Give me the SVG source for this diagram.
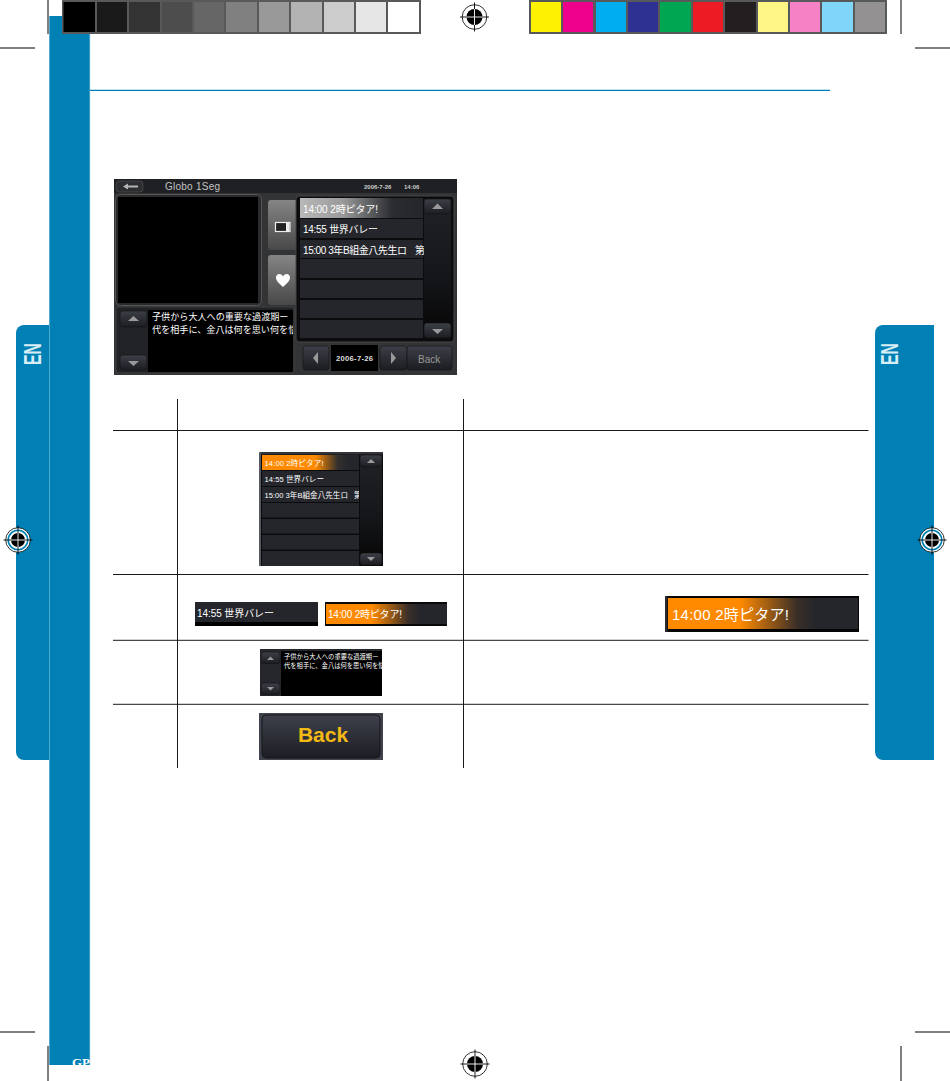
<svg xmlns="http://www.w3.org/2000/svg" width="950" height="1081" viewBox="0 0 950 1081">
<style>
.crop{stroke:#000;stroke-width:1;fill:none}
.rule{stroke:#1a1a1a;stroke-width:1;fill:none}
.jp{font-family:"Liberation Sans","Noto Sans CJK JP",sans-serif;fill:#fff}
.row{fill:#24262b}
.btn{fill:url(#btnG);stroke:#111;stroke-width:.6}
.arr{fill:#9a9a9a}
</style>
<defs>
<linearGradient id="btnG" x1="0" y1="0" x2="0" y2="1"><stop offset="0" stop-color="#3c3f47"/><stop offset="1" stop-color="#1c1d22"/></linearGradient>
<linearGradient id="sideB" x1="0" y1="0" x2="0" y2="1"><stop offset="0" stop-color="#858585"/><stop offset="1" stop-color="#484848"/></linearGradient>
<linearGradient id="track" x1="0" y1="0" x2="0" y2="1"><stop offset="0" stop-color="#202226"/><stop offset=".6" stop-color="#141518"/><stop offset="1" stop-color="#050505"/></linearGradient>
<linearGradient id="selG"><stop offset="0" stop-color="#b8b8b8"/><stop offset=".35" stop-color="#9a9a9a"/><stop offset=".75" stop-color="#2a2c30"/><stop offset="1" stop-color="#24262b"/></linearGradient>
<linearGradient id="orG"><stop offset="0" stop-color="#ff8a00"/><stop offset=".38" stop-color="#ff8a00"/><stop offset=".68" stop-color="#3a2e28"/><stop offset=".78" stop-color="#24262b"/></linearGradient>
<linearGradient id="orL"><stop offset="0" stop-color="#ff8a00"/><stop offset=".55" stop-color="#ff8a00"/><stop offset=".78" stop-color="#33302e"/><stop offset=".9" stop-color="#24262b"/></linearGradient>
<linearGradient id="backG" x1="0" y1="0" x2="0" y2="1"><stop offset="0" stop-color="#3d404b"/><stop offset="1" stop-color="#1d1e24"/></linearGradient>
<clipPath id="c1"><rect x="148" y="310" width="145" height="62"/></clipPath>
<clipPath id="c2"><rect x="300" y="240" width="124" height="18"/></clipPath>
<clipPath id="c3"><rect x="262" y="487" width="97" height="15"/></clipPath>
<clipPath id="c4"><rect x="281" y="651" width="101" height="45"/></clipPath>
<clipPath id="c5"><rect x="49" y="16" width="41" height="1049"/></clipPath>
<symbol id="reg" viewBox="-15 -15 30 30" width="30" height="30" overflow="visible">
<circle r="12.300" fill="#fff" stroke="#000" stroke-width=".8"/>
<circle r="8" fill="#000"/>
<path d="M-8 0H8M0-8V8" stroke="#fff" stroke-width=".9"/>
<path d="M-14.500 0H-8M8 0H14.500M0-14.500V-8M0 8V14.500" stroke="#000" stroke-width=".9"/>
</symbol>
<symbol id="regs" viewBox="-15 -15 30 30" width="30" height="30" overflow="visible">
<circle r="12.300" fill="#fff" stroke="#000" stroke-width=".8"/>
<circle r="9.800" fill="none" stroke="#0080b4" stroke-width="1.600"/>
<circle r="7" fill="#000"/>
<path d="M-7 0H7M0-7V7" stroke="#fff" stroke-width=".9"/>
<path d="M-14.500 0H-7M7 0H14.500M0-14.500V-7M0 7V14.500" stroke="#000" stroke-width=".9"/>
</symbol>
</defs>
<rect width="950" height="1081" fill="#fff"/>

<g id="side-bands">
<rect x="49" y="16" width="41" height="1049" fill="#0080b4"/>
<path d="M49.500 16V1065M89.700 16V1065" stroke="#62b3d6" stroke-width=".8"/>
<path d="M49 325H24a8 8 0 0 0-8 8V752a8 8 0 0 0 8 8H49Z" fill="#0080b4"/>
<path d="M934 325H883a8 8 0 0 0-8 8V752a8 8 0 0 0 8 8H934Z" fill="#0080b4"/>
<text transform="translate(41 365) rotate(-90)" font-family="Liberation Sans,sans-serif" font-weight="700" font-size="23" fill="#d8eef7" textLength="22" lengthAdjust="spacingAndGlyphs">EN</text>
<text transform="translate(898 365) rotate(-90)" font-family="Liberation Sans,sans-serif" font-weight="700" font-size="23" fill="#d8eef7" textLength="22" lengthAdjust="spacingAndGlyphs">EN</text>
<text x="72" y="1066.500" clip-path="url(#c5)" font-family="Liberation Serif,serif" font-weight="700" font-size="13" fill="#fff">GP</text>
</g>
<path id="top-rule" d="M90 90.300H830" stroke="#0080b4" stroke-width="1.200"/>

<g id="crop-marks">
<path class="crop" d="M48 0V34M0 48H35M901 0V34M915 48H950M0 1032H35M48 1046V1081M901 1046V1081M915 1032H950"/>
</g>

<g id="gray-bar">
<rect x="62" y="0" width="359" height="34" fill="#58595b"/>
<rect x="63.500" y="2" width="31.500" height="30" fill="#000"/>
<rect x="97" y="2" width="30" height="30" fill="#1a1a1a"/>
<rect x="129" y="2" width="31" height="30" fill="#333"/>
<rect x="162" y="2" width="30" height="30" fill="#4d4d4d"/>
<rect x="194" y="2" width="30" height="30" fill="#666"/>
<rect x="226" y="2" width="31" height="30" fill="#808080"/>
<rect x="259" y="2" width="30" height="30" fill="#999"/>
<rect x="291" y="2" width="31" height="30" fill="#b3b3b3"/>
<rect x="324" y="2" width="30" height="30" fill="#ccc"/>
<rect x="356" y="2" width="30" height="30" fill="#e6e6e6"/>
<rect x="388" y="2" width="31" height="30" fill="#fff"/>
</g>
<g id="color-bar">
<rect x="529" y="0" width="358" height="34" fill="#58595b"/>
<rect x="531" y="2" width="30" height="30" fill="#fff200"/>
<rect x="563" y="2" width="30" height="30" fill="#ec008c"/>
<rect x="596" y="2" width="30" height="30" fill="#00aeef"/>
<rect x="628" y="2" width="30" height="30" fill="#2e3192"/>
<rect x="660" y="2" width="31" height="30" fill="#00a651"/>
<rect x="693" y="2" width="30" height="30" fill="#ed1c24"/>
<rect x="725" y="2" width="31" height="30" fill="#231f20"/>
<rect x="758" y="2" width="30" height="30" fill="#fff685"/>
<rect x="790" y="2" width="30" height="30" fill="#f682c5"/>
<rect x="822" y="2" width="31" height="30" fill="#7fd6f9"/>
<rect x="855" y="2" width="30" height="30" fill="#939192"/>
</g>
<g id="registration-marks">
<use href="#reg" x="459.500" y="2"/>
<use href="#regs" x="3" y="525"/>
<use href="#regs" x="917" y="525"/>
<use href="#reg" x="460" y="1049"/>
</g>

<g id="main-screen">
<rect x="114" y="179" width="343" height="196" fill="#333436"/>
<rect x="114" y="179" width="343" height="14" fill="#1f2023"/>
<rect x="116" y="181" width="27" height="11" rx="3" fill="#2d2e32" stroke="#555" stroke-width=".6"/>
<path d="M123 186.500L128 183.500V185.500H138V187.500H128V189.500Z" fill="#b5b5b5"/>
<text x="165" y="190" font-family="Liberation Sans,sans-serif" font-size="10" fill="#c4c4c4" textLength="55">Globo 1Seg</text>
<text x="364" y="188.500" font-family="Liberation Sans,sans-serif" font-weight="700" font-size="6" fill="#ccc">2006-7-26</text>
<text x="404" y="188.500" font-family="Liberation Sans,sans-serif" font-weight="700" font-size="6" fill="#ccc">14:06</text>
<rect x="115.500" y="194.500" width="146" height="111" rx="5" fill="#2a2a2c" stroke="#555" stroke-width="1"/>
<rect x="118" y="197" width="140" height="106" fill="#000"/>
<path d="M271 200H297V250H271a3 3 0 0 1-3-3V203a3 3 0 0 1 3-3Z" fill="url(#sideB)"/>
<path d="M271 255H297V305H271a3 3 0 0 1-3-3V258a3 3 0 0 1 3-3Z" fill="url(#sideB)"/>
<rect x="275.500" y="222.500" width="14.500" height="9" fill="#222" stroke="#eee" stroke-width="1.200"/>
<rect x="286" y="223" width="3.500" height="8" fill="#eee"/>
<path d="M283 287C278.500 283 276 280.500 276 277.500C276 273.500 281 272.800 283 276.500C285 272.800 290 273.500 290 277.500C290 280.500 287.500 283 283 287Z" fill="#fff"/>
<rect x="296" y="196" width="158" height="146" rx="3" fill="#0c0c0e" stroke="#444" stroke-width="1"/>
<rect x="300" y="198" width="123" height="20" fill="url(#selG)"/>
<rect class="row" x="300" y="219" width="123" height="19"/>
<rect class="row" x="300" y="240" width="123" height="18"/>
<rect class="row" x="300" y="259" width="123" height="19"/>
<rect class="row" x="300" y="280" width="123" height="18"/>
<rect class="row" x="300" y="300" width="123" height="18"/>
<rect class="row" x="300" y="320" width="123" height="18"/>
<text class="jp" x="303" y="213" font-size="10" textLength="75">14:00 2時ピタア!</text>
<text class="jp" x="303" y="233" font-size="10" textLength="75">14:55 世界バレー</text>
<g clip-path="url(#c2)">
<text class="jp" x="303" y="254" font-size="10" textLength="104">15:00 3年B組金八先生ロ</text>
<text class="jp" x="415" y="254" font-size="10">第</text>
</g>
<rect x="424" y="199" width="27" height="139" fill="url(#track)"/>
<rect class="btn" x="424" y="199" width="27" height="15" rx="3"/>
<path class="arr" d="M432 209L437.500 203.500L443 209Z"/>
<rect class="btn" x="424" y="323" width="27" height="15" rx="3"/>
<path class="arr" d="M432 329L437.500 334L443 329Z"/>
<rect x="116" y="307" width="178" height="66" rx="3" fill="#222326" stroke="#444" stroke-width=".8"/>
<rect x="148" y="310" width="145" height="62" fill="#000"/>
<rect x="120" y="311" width="27" height="16" rx="3" class="btn"/>
<path class="arr" d="M128 321L133.500 316L139 321Z"/>
<rect x="120" y="355" width="27" height="15" rx="3" class="btn"/>
<path class="arr" d="M128 361L133.500 366L139 361Z"/>
<g clip-path="url(#c1)">
<text class="jp" x="152" y="320" font-size="9.100">子供から大人への重要な過渡期ー</text>
<text class="jp" x="152" y="333" font-size="9.100">代を相手に、金八は何を思い何を悩</text>
</g>
<rect class="btn" x="303" y="346" width="26" height="24" rx="3"/>
<path class="arr" d="M313 358L318 352V364Z"/>
<rect x="331" y="345" width="47" height="26" fill="#000"/>
<text x="336" y="361" font-family="Liberation Sans,sans-serif" font-weight="700" font-size="7.700" fill="#ddd" textLength="37">2006-7-26</text>
<rect class="btn" x="380" y="346" width="27" height="24" rx="3"/>
<path class="arr" d="M391 352L396 358L391 364Z"/>
<rect class="btn" x="407" y="346" width="45" height="24" rx="3"/>
<text x="418" y="363" font-family="Liberation Sans,sans-serif" font-size="10" fill="#999">Back</text>
</g>

<g id="table-rules">
<path class="rule" d="M177.500 399V768M463.500 399V768M113 430.500H868.500M113 574.500H868.500M113 640.300H868.500M113 704.300H868.500"/>
</g>

<g id="list-sample">
<rect x="259" y="452" width="124" height="114" fill="#0a0b0d"/>
<rect x="259" y="452" width="124" height="2.500" fill="#33353a"/>
<rect x="259" y="452" width="2" height="114" fill="#55585e"/>
<rect x="262" y="455" width="97" height="15" fill="url(#orL)"/>
<rect class="row" x="262" y="471" width="97" height="15"/>
<rect class="row" x="262" y="487" width="97" height="15"/>
<rect class="row" x="262" y="503" width="97" height="14.500"/>
<rect class="row" x="262" y="519" width="97" height="14.500"/>
<rect class="row" x="262" y="535" width="97" height="14.500"/>
<rect class="row" x="262" y="551" width="97" height="15"/>
<text class="jp" x="264.500" y="466" font-size="7.600" textLength="59">14:00 2時ピタア!</text>
<text class="jp" x="264.500" y="482" font-size="7.600" textLength="59.500">14:55 世界バレー</text>
<g clip-path="url(#c3)">
<text class="jp" x="264.500" y="498" font-size="7.600" textLength="83.500">15:00 3年B組金八先生ロ</text>
<text class="jp" x="354" y="498" font-size="7.600">第</text>
</g>
<rect x="360" y="455" width="22" height="110" fill="url(#track)"/>
<rect class="btn" x="360" y="455" width="22" height="12" rx="3"/>
<path class="arr" d="M367 463L371 459L375 463Z"/>
<rect class="btn" x="360" y="553" width="22" height="12" rx="3"/>
<path class="arr" d="M367 557L371 561L375 557Z"/>
</g>

<g id="row-normal">
<rect x="195" y="602" width="123" height="24" fill="#000"/>
<rect class="row" x="195" y="602" width="123" height="20"/>
<text class="jp" x="197" y="617" font-size="10" textLength="77">14:55 世界バレー</text>
</g>
<g id="row-selected">
<rect x="325" y="602" width="122" height="24" fill="#0a0a0a"/>
<rect x="326" y="604" width="121" height="20" fill="url(#orG)"/>
<text class="jp" x="328" y="618" font-size="10" textLength="74">14:00 2時ピタア!</text>
</g>
<g id="row-selected-large">
<rect x="665" y="596" width="194" height="36" fill="#050505"/>
<rect x="665" y="596" width="2.500" height="36" fill="#2a2b2f"/>
<rect x="668" y="598" width="190" height="31" fill="url(#orG)"/>
<text class="jp" x="672" y="620" font-size="15" textLength="117">14:00 2時ピタア!</text>
</g>

<g id="text-sample">
<rect x="260" y="649" width="122" height="47" fill="#26272c"/>
<rect x="281" y="651" width="101" height="45" fill="#000"/>
<rect class="btn" x="261" y="652" width="19" height="11.500" rx="3"/>
<path class="arr" d="M267 660L270.500 656.500L274 660Z"/>
<rect class="btn" x="261" y="683" width="19" height="11.500" rx="3"/>
<path class="arr" d="M267 687L270.500 690.500L274 687Z"/>
<g clip-path="url(#c4)">
<text class="jp" x="284" y="659" font-size="6.300">子供から大人への重要な過渡期ー</text>
<text class="jp" x="284" y="667.500" font-size="6.300">代を相手に、金八は何を思い何を悩</text>
</g>
</g>

<g id="back-sample">
<rect x="259" y="713" width="124" height="47" fill="#40434e"/>
<rect x="262" y="715" width="118" height="43" rx="4" fill="url(#backG)" stroke="#15161a" stroke-width="1"/>
<text x="323" y="741.500" text-anchor="middle" font-family="Liberation Sans,sans-serif" font-weight="700" font-size="21" fill="#f5b915">Back</text>
</g>
</svg>
